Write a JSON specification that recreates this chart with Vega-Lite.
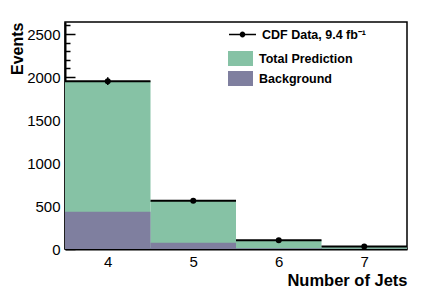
{
  "$schema": "https://vega.github.io/schema/vega-lite/v6.json",
  "width": 342,
  "height": 227,
  "autosize": {"type": "none"},
  "padding": {"left": 65, "top": 22, "right": 22, "bottom": 42},
  "background": "white",
  "config": {
    "view": {"stroke": "black", "strokeWidth": 1.5},
    "font": "Liberation Sans",
    "axis": {"grid": false, "zindex": 1, "domainColor": "black", "domainWidth": 2, "tickColor": "black", "labelColor": "black", "labelFont": "Liberation Sans", "labelFontSize": 15, "titleFont": "Liberation Sans", "titleFontWeight": "bold", "titleFontSize": 16, "titleColor": "black"},
    "legend": {"labelFont": "Liberation Sans", "labelFontWeight": "bold", "labelFontSize": 12.5, "labelColor": "black", "padding": 0}
  },
  "datasets": {
    "bins": [
      {"jets": 4, "lo": 3.5, "hi": 4.5, "comp": "Total Prediction", "n": 1950},
      {"jets": 5, "lo": 4.5, "hi": 5.5, "comp": "Total Prediction", "n": 558},
      {"jets": 6, "lo": 5.5, "hi": 6.5, "comp": "Total Prediction", "n": 102},
      {"jets": 7, "lo": 6.5, "hi": 7.5, "comp": "Total Prediction", "n": 28},
      {"jets": 4, "lo": 3.5, "hi": 4.5, "comp": "Background", "n": 434},
      {"jets": 5, "lo": 4.5, "hi": 5.5, "comp": "Background", "n": 73},
      {"jets": 6, "lo": 5.5, "hi": 6.5, "comp": "Background", "n": 8},
      {"jets": 7, "lo": 6.5, "hi": 7.5, "comp": "Background", "n": 3}
    ],
    "obs": [
      {"jets": 4, "lo": 3.5, "hi": 4.5, "n": 1952, "nlo": 1908, "nhi": 1996, "series": "CDF Data, 9.4 fb⁻¹"},
      {"jets": 5, "lo": 4.5, "hi": 5.5, "n": 562, "nlo": 538, "nhi": 586, "series": "CDF Data, 9.4 fb⁻¹"},
      {"jets": 6, "lo": 5.5, "hi": 6.5, "n": 102, "nlo": 92, "nhi": 112, "series": "CDF Data, 9.4 fb⁻¹"},
      {"jets": 7, "lo": 6.5, "hi": 7.5, "n": 28, "nlo": 23, "nhi": 33, "series": "CDF Data, 9.4 fb⁻¹"}
    ]
  },
  "layer": [
    {
      "data": {"name": "bins"},
      "mark": {"type": "rect", "opacity": 1},
      "encoding": {
        "x": {"field": "lo", "type": "quantitative", "scale": {"domain": [3.5, 7.5], "nice": false, "zero": false},
          "axis": {"values": [4, 5, 6, 7], "tickCount": 20, "format": "d", "tickSize": -5, "tickWidth": 1.5, "labelPadding": 10, "title": "Number of Jets", "titleFontSize": 16.5, "titleAnchor": "end", "titleAlign": "right", "titleX": 342, "titleY": 36, "titleBaseline": "alphabetic"}},
        "x2": {"field": "hi"},
        "y": {"field": "n", "type": "quantitative", "scale": {"domain": [0, 2640], "nice": false},
          "axis": {"values": [0,100,200,300,400,500,600,700,800,900,1000,1100,1200,1300,1400,1500,1600,1700,1800,1900,2000,2100,2200,2300,2400,2500,2600],
            "tickCount": 100,
            "format": "d",
            "labelExpr": "datum.value % 500 === 0 ? datum.label : ''", "labelOverlap": false,
            "tickSize": {"condition": {"test": "datum.value % 500 === 0", "value": -10}, "value": -5},
            "tickWidth": 1.5, "labelPadding": 15, "labelFlush": false, "labelBound": false,
            "title": "Events", "titleAnchor": "end", "titleAngle": -90, "titleAlign": "right", "titleX": -43, "titleY": 0, "titleBaseline": "alphabetic"}},
        "y2": {"datum": 0},
        "fill": {"field": "comp", "type": "nominal", "scale": {"domain": ["Total Prediction", "Background"], "range": ["#86c2a5", "#7f7f9f"]},
          "legend": {"orient": "none", "legendX": 163, "legendY": 24, "title": null, "symbolType": "M-1,-0.6H1V0.6H-1Z", "symbolSize": 625, "symbolStrokeWidth": 0, "symbolOpacity": 1, "labelOffset": 6, "rowPadding": 0}}
      }
    },
    {
      "data": {"name": "obs"},
      "mark": {"type": "rule", "color": "black", "strokeWidth": 2},
      "encoding": {
        "x": {"field": "lo", "type": "quantitative"},
        "x2": {"field": "hi"},
        "y": {"field": "n", "type": "quantitative"}
      }
    },
    {
      "data": {"name": "obs"},
      "mark": {"type": "rule", "color": "black", "strokeWidth": 1.5},
      "encoding": {
        "x": {"field": "jets", "type": "quantitative"},
        "y": {"field": "nlo", "type": "quantitative"},
        "y2": {"field": "nhi"}
      }
    },
    {
      "data": {"name": "obs"},
      "mark": {"type": "point", "filled": true, "fill": "black", "size": 16, "opacity": 1},
      "encoding": {
        "x": {"field": "jets", "type": "quantitative"},
        "y": {"field": "n", "type": "quantitative"},
        "stroke": {"field": "series", "type": "nominal", "scale": {"range": ["black"]},
          "legend": {"orient": "none", "legendX": 163, "legendY": -2, "title": null, "symbolType": "M-1,0H1M-0.16,0A0.16,0.16 0 1,0 0.16,0A0.16,0.16 0 1,0 -0.16,0Z", "symbolSize": 729, "symbolFillColor": "black", "symbolStrokeWidth": 1.5, "labelOffset": 5}}
      }
    }
  ]
}
